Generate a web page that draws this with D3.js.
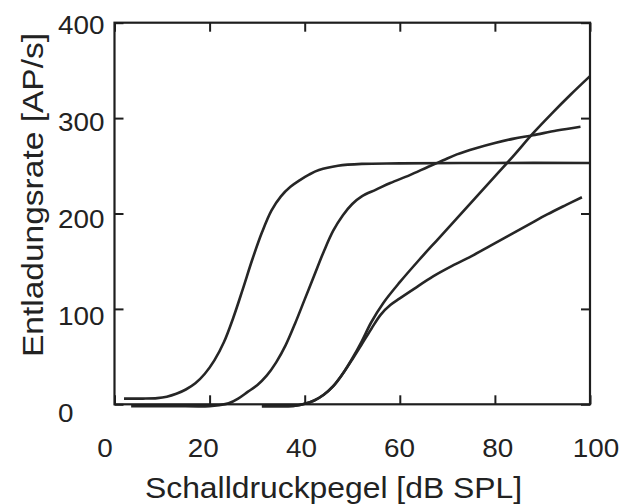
<!DOCTYPE html>
<html><head><meta charset="utf-8">
<script src="https://cdn.jsdelivr.net/npm/d3@7"></script>
<style>
html,body{margin:0;padding:0;background:#fff;}
text{font-family:"Liberation Sans",Arial,sans-serif;fill:#222;}
</style></head>
<body>
<svg id="chart" width="621" height="504"></svg>
<script>
// Data (sound pressure level in dB SPL -> discharge rate in AP/s)
const xTicks = [0, 20, 40, 60, 80, 100];
const yTicks = [0, 100, 200, 300, 400];
const xTitle = "Schalldruckpegel [dB SPL]";
const yTitle = "Entladungsrate [AP/s]";

const curve1 = [[2,6],[6,6],[9,6.5],[11,8],[13,11],[15,15.5],[17,22],[19,32],[21,46],[23,65],[25,91],[27,121],[29,152],[31,180],[33,203],[35,218],[37,228],[39,235],[41,241],[43,245.5],[47,250],[52,252],[60,252.5],[80,253],[100,253]];
const curve2 = [[3.5,-2],[12,-2],[20,-2],[22,-1],[24,1],[26,6],[28,13],[30,20],[32,30],[34,44],[36,62],[38,85],[40,110],[42,135],[44,160],[46,182],[48,198],[50,210],[52,218],[55,225],[58,232],[62,240],[66,249],[69,255.5],[72,262],[76,268.5],[80,274],[84,278.5],[88,282],[93,287],[98,291]];
const curve3 = [[31,-2],[35,-2],[38,-1.5],[40,0.5],[42,4],[44,10],[46,19],[48,32],[50,48],[52,66],[54,86],[56.5,106],[60,128],[64,151],[68,173],[72,195],[76,217],[80,239],[84,261],[88,284],[92,305],[96,325],[100,344]];
const curve4 = [[31,-2],[35,-2],[38,-1.5],[40,0.5],[42,4],[44,10],[46,19],[48,32],[50,47],[52,63],[54,79],[56,94],[58,104],[60,111],[63,121],[67,134],[71,145],[75,155],[79,166],[83,177],[87,188],[91,199],[95,209],[98.3,217]];
const series = [curve1, curve2, curve3, curve4];

const svg = d3.select("#chart");
const L = 114.5, R = 590, T = 22.7, B = 404.3;
const x = d3.scaleLinear().domain([0, 100]).range([L, R]);
const y = d3.scaleLinear().domain([0, 400]).range([B, T]);
// label placement scales (labels in the reference sit slightly offset from ticks)
const xl = d3.scaleLinear().domain([0, 100]).range([105, 596]);
const yl = d3.scaleLinear().domain([0, 400]).range([413, 25]);

const ink = "#1e1e1e";

// curves
const line = d3.line().x(d => x(d[0])).y(d => y(d[1])).curve(d3.curveCatmullRom.alpha(0.5));
svg.append("g").selectAll("path").data(series).join("path")
  .attr("d", line).attr("fill", "none").attr("stroke", "#262626")
  .attr("stroke-width", 2.6).attr("stroke-linejoin", "round").attr("stroke-linecap", "butt");

// axes with inward ticks
function styleAxis(g){
  g.select(".domain").remove();
  g.selectAll(".tick line").attr("stroke", ink).attr("stroke-width", 2);
  g.selectAll(".tick text").remove();
}
svg.append("g").attr("transform", `translate(0,${B})`)
  .call(d3.axisBottom(x).tickValues(xTicks).tickSize(-9)).call(styleAxis);
svg.append("g").attr("transform", `translate(0,${T})`)
  .call(d3.axisTop(x).tickValues(xTicks).tickSize(-9)).call(styleAxis);
svg.append("g").attr("transform", `translate(${L},0)`)
  .call(d3.axisLeft(y).tickValues(yTicks).tickSize(-9)).call(styleAxis);
svg.append("g").attr("transform", `translate(${R},0)`)
  .call(d3.axisRight(y).tickValues(yTicks).tickSize(-9)).call(styleAxis);

// box
svg.append("rect").attr("x", L).attr("y", T).attr("width", R - L).attr("height", B - T)
  .attr("fill", "none").attr("stroke", ink).attr("stroke-width", 2.2);

// tick labels
svg.append("g").selectAll("text").data(xTicks).join("text")
  .attr("x", d => xl(d)).attr("y", 448).attr("dy", "0.36em")
  .attr("text-anchor", "middle").attr("font-size", 25)
  .attr("textLength", d => String(d).length * 15.5).attr("lengthAdjust", "spacingAndGlyphs")
  .text(d => d);
svg.append("g").selectAll("text").data(yTicks).join("text")
  .attr("x", 58).attr("y", d => yl(d)).attr("dy", "0.36em")
  .attr("text-anchor", "start").attr("font-size", 25)
  .attr("textLength", d => String(d).length * 15.5).attr("lengthAdjust", "spacingAndGlyphs")
  .text(d => d);

// axis titles
svg.append("text").attr("x", (145 + 522) / 2).attr("y", 498)
  .attr("text-anchor", "middle").attr("font-size", 30)
  .attr("textLength", 377).attr("lengthAdjust", "spacingAndGlyphs").text(xTitle);
svg.append("text").attr("transform", `translate(43,${(33 + 357) / 2}) rotate(-90)`)
  .attr("text-anchor", "middle").attr("font-size", 30)
  .attr("textLength", 324).attr("lengthAdjust", "spacingAndGlyphs").text(yTitle);
</script>
</body></html>
